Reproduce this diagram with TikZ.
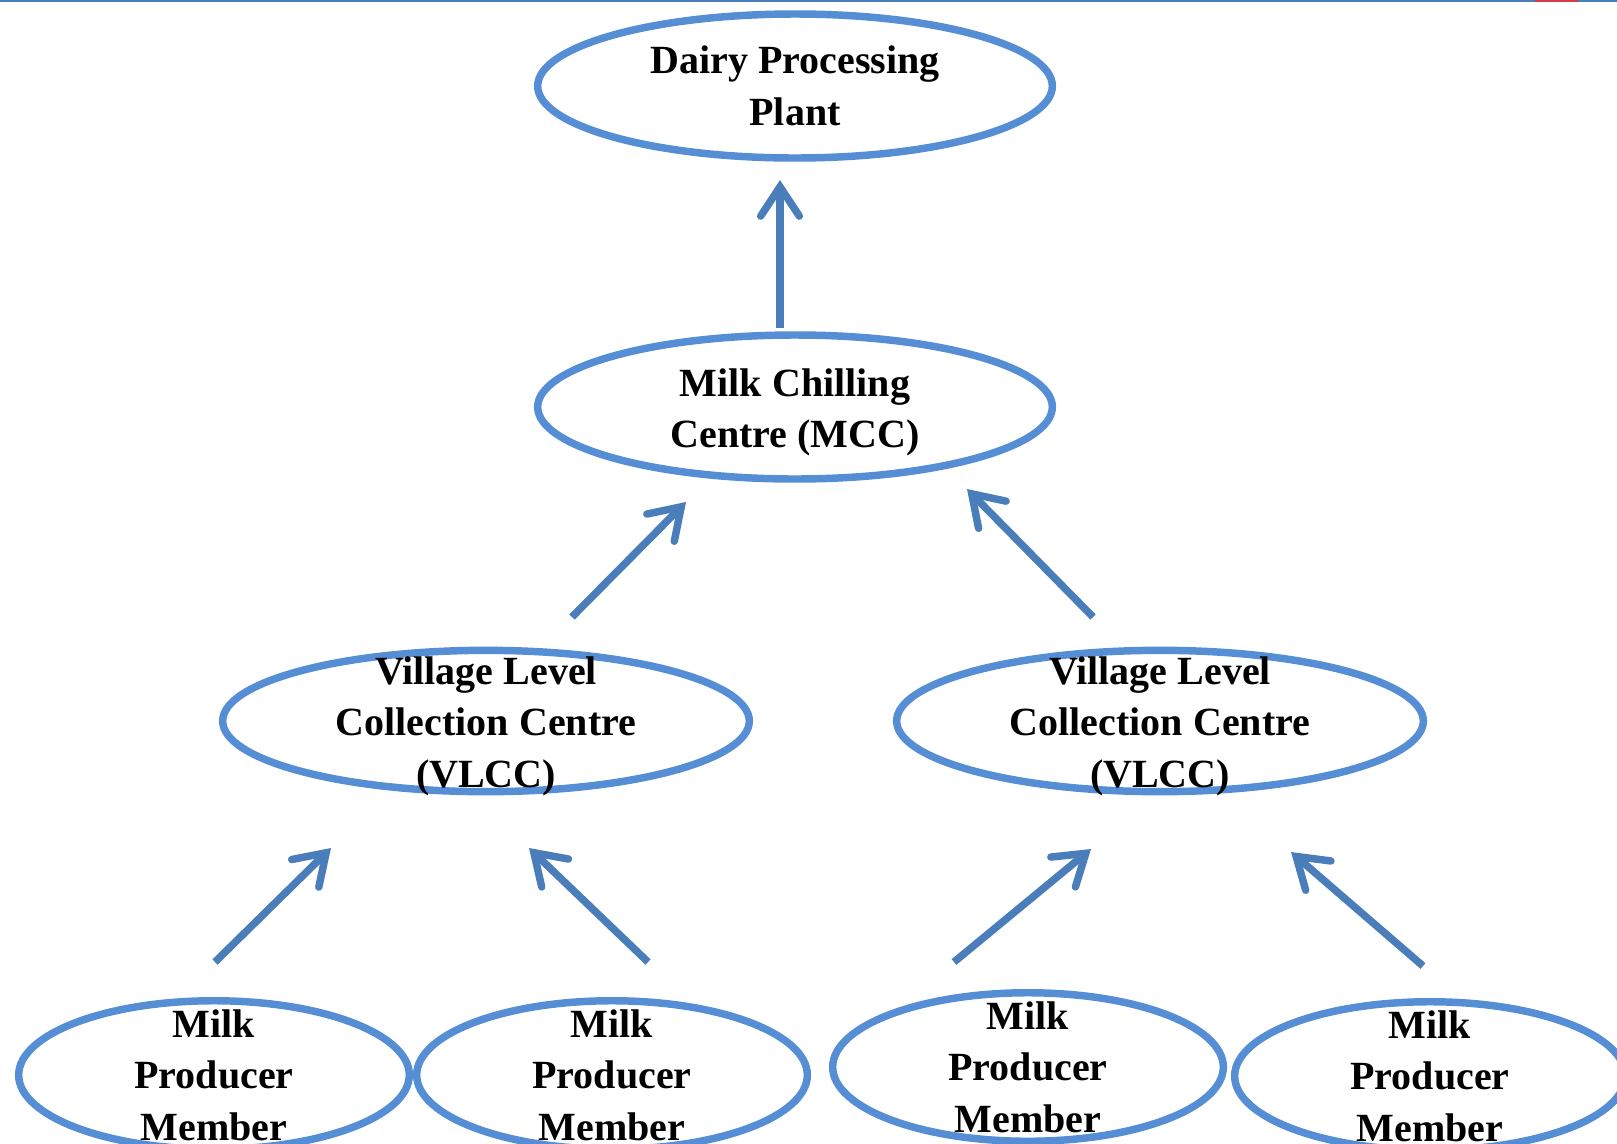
\documentclass[tikz,border=0pt]{standalone}
\usepackage{fontspec}
\setmainfont{Liberation Serif}
\usetikzlibrary{shapes.geometric,arrows.meta}
\definecolor{ellblue}{RGB}{85,142,213}
\definecolor{arrblue}{RGB}{74,126,187}
\definecolor{topblue}{RGB}{74,126,187}
\definecolor{topred}{RGB}{210,60,70}
\tikzset{
  txt/.style={align=center, inner sep=0pt, font=\fontsize{30}{38.7}\selectfont\bfseries},
  oval/.style={ellipse, draw=ellblue, line width=5.6pt, inner sep=0pt},
  bigoval/.style={oval, minimum width=386pt, minimum height=108pt},
  midoval/.style={oval, minimum width=395pt, minimum height=106pt},
  smalloval/.style={oval, minimum width=293pt, minimum height=111.4pt},
  flow/.style={draw=arrblue, line width=5.6pt,
    -{Straight Barb[length=22pt, width=29pt, line cap=round, line join=miter]}}
}
\begin{document}
\begin{tikzpicture}[x=0.75pt, y=-0.75pt]
\useasboundingbox (0,0) rectangle (1617,1143);
\fill[topblue] (0,0) rectangle (1617,2);
\fill[topred] (1535,0) rectangle (1578,2);

\node[bigoval, label={[txt]center:Dairy Processing\\Plant}] (dpp) at (795,86) {};
\node[bigoval, label={[txt, yshift=-4pt]center:Milk Chilling\\Centre (MCC)}] (mcc) at (795,407) {};
\node[midoval, label={[txt, yshift=-4pt]center:Village Level\\Collection Centre\\(VLCC)}] (vl1) at (486,721) {};
\node[midoval, label={[txt, yshift=-4pt]center:Village Level\\Collection Centre\\(VLCC)}] (vl2) at (1160,721) {};
\node[smalloval, label={[txt]center:Milk\\Producer\\Member}] (mp1) at (214,1075) {};
\node[smalloval, label={[txt]center:Milk\\Producer\\Member}] (mp2) at (612,1075) {};
\node[smalloval, label={[txt]center:Milk\\Producer\\Member}] (mp3) at (1028,1067) {};
\node[smalloval, label={[txt]center:Milk\\Producer\\Member}] (mp4) at (1430,1076) {};

\coordinate (a1s) at (780,328);  \coordinate (a1e) at (780,180);
\coordinate (a2s) at (572,617);  \coordinate (a2e) at (686,502);
\coordinate (a3s) at (1093,617); \coordinate (a3e) at (967,489);
\coordinate (a4s) at (215,962);  \coordinate (a4e) at (331,848);
\coordinate (a5s) at (648,962);  \coordinate (a5e) at (529,848);
\coordinate (a6s) at (954,962);  \coordinate (a6e) at (1091,849);
\coordinate (a7s) at (1423,966); \coordinate (a7e) at (1291,852);

\draw[flow] (a1s) -- (a1e);
\draw[flow] (a2s) -- (a2e);
\draw[flow] (a3s) -- (a3e);
\draw[flow] (a4s) -- (a4e);
\draw[flow] (a5s) -- (a5e);
\draw[flow] (a6s) -- (a6e);
\draw[flow] (a7s) -- (a7e);
\end{tikzpicture}
\end{document}
